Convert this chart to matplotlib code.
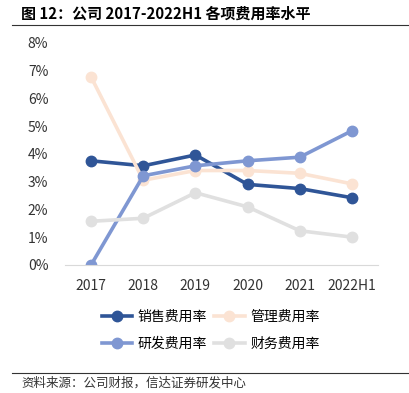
import matplotlib.pyplot as plt
from matplotlib.lines import Line2D
from matplotlib.ticker import PercentFormatter

plt.rcParams['font.family'] = ['Noto Sans CJK SC', 'DejaVu Sans']

# 数据
years = ["2017", "2018", "2019", "2020", "2021", "2022H1"]
sales_rate = [3.75, 3.57, 3.96, 2.90, 2.75, 2.42]
admin_rate = [6.77, 3.05, 3.40, 3.40, 3.30, 2.92]
rd_rate = [0.0, 3.21, 3.57, 3.75, 3.88, 4.83]
fin_rate = [1.57, 1.68, 2.60, 2.09, 1.23, 1.00]

series = [
    ("销售费用率", sales_rate, "#2F5597"),
    ("管理费用率", admin_rate, "#FBE3D3"),
    ("研发费用率", rd_rate, "#7F97D2"),
    ("财务费用率", fin_rate, "#E0E0E0"),
]

fig = plt.figure(figsize=(4.09, 3.93), dpi=100)
fig.patch.set_facecolor("white")

# 标题
fig.text(0.052, 0.965, "图 12：公司 2017-2022H1 各项费用率水平", fontsize=10.8,
         fontweight="bold", va="center", ha="left")
fig.add_artist(Line2D([0.03, 1.0], [0.936, 0.936], color="#333333", linewidth=0.8))

ax = fig.add_axes([0.159, 0.326, 0.765, 0.565])
x = list(range(len(years)))
for name, vals, color in series:
    ax.plot(x, vals, color=color, linewidth=2.6, marker="o", markersize=7.5, label=name)

ax.set_xlim(-0.5, len(years) - 0.5)
ax.set_ylim(0, 8)
ax.set_yticks(range(0, 9))
ax.yaxis.set_major_formatter(PercentFormatter(decimals=0))
ax.set_xticks(x)
ax.set_xticklabels(years)
for side in ["top", "right", "left"]:
    ax.spines[side].set_visible(False)
ax.spines["bottom"].set_color("#D9D9D9")
ax.tick_params(axis="both", length=0, labelsize=10, colors="#333333")
ax.tick_params(axis="x", pad=10)
ax.tick_params(axis="y", pad=12)

# 图例按行排列：销售/管理，研发/财务
handles, labels = ax.get_legend_handles_labels()
order = [0, 2, 1, 3]
fig.legend([handles[i] for i in order], [labels[i] for i in order], loc="center",
           bbox_to_anchor=(0.515, 0.16), ncol=2, frameon=False, fontsize=10,
           handlelength=2.2, columnspacing=0.5, handletextpad=0.4, labelspacing=0.9)

fig.add_artist(Line2D([0.03, 1.0], [0.052, 0.052], color="#333333", linewidth=0.8))
fig.text(0.052, 0.025, "资料来源：公司财报，信达证券研发中心", fontsize=9,
         va="center", ha="left", color="#333333")

fig.savefig("out.png", dpi=100)
plt.close(fig)
